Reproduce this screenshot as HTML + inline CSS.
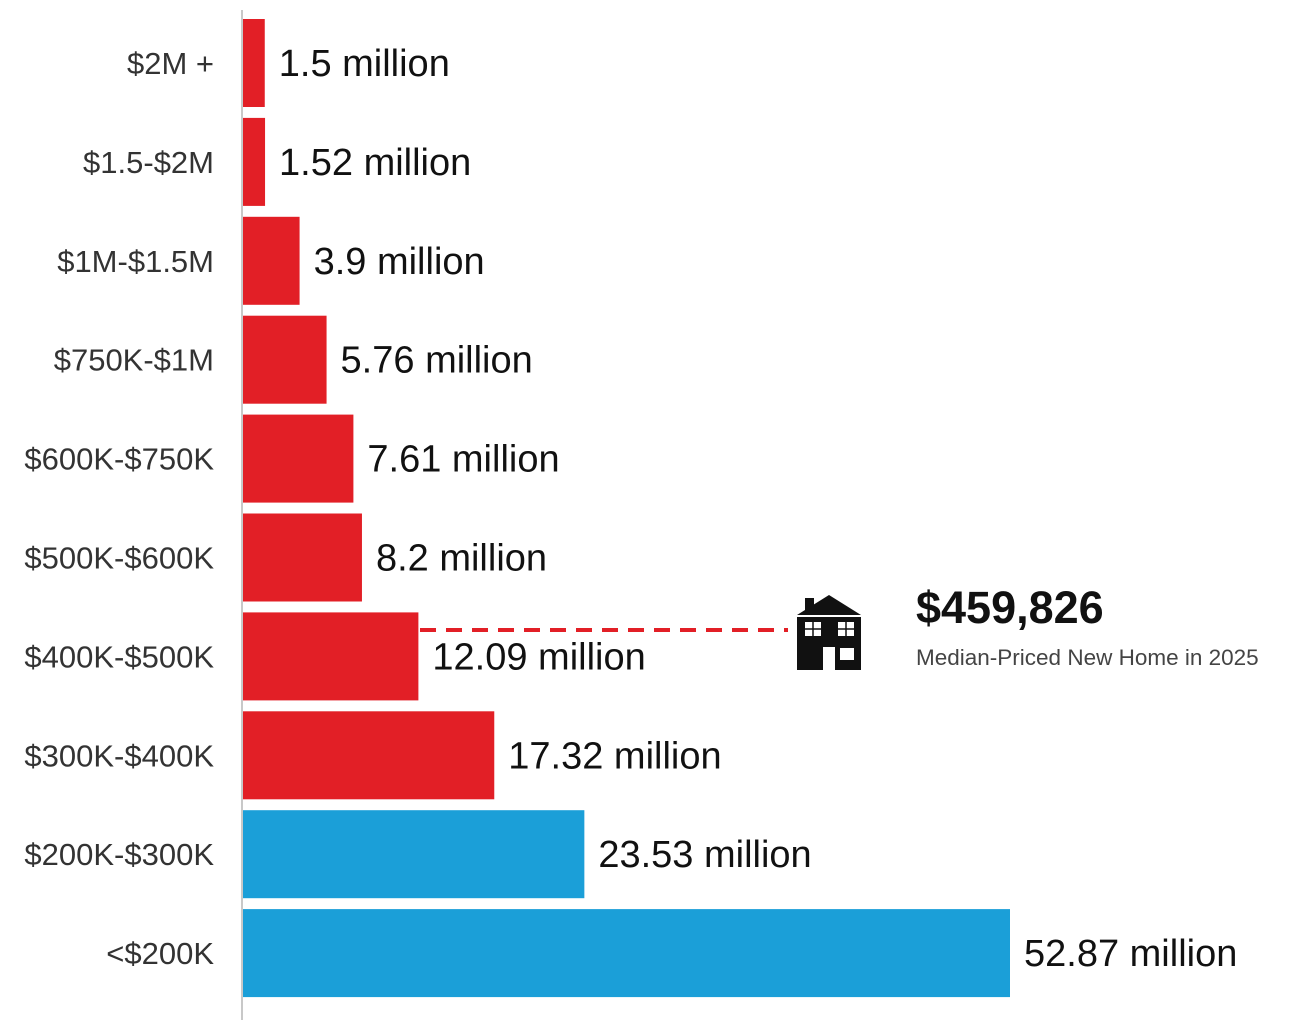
<!DOCTYPE html>
<html><head><meta charset="utf-8"><style>
body{margin:0;background:#fff;}
svg text{font-family:"Liberation Sans",sans-serif;}
</style></head><body>
<svg id="chart" width="1291" height="1029" viewBox="0 0 1291 1029" xmlns="http://www.w3.org/2000/svg">
<line x1="242" y1="10" x2="242" y2="1020" stroke="#c8c8c8" stroke-width="2"/>
<g id="bars"></g>
<g>
<line x1="420" y1="630" x2="788" y2="630" stroke="#e21f26" stroke-width="4" stroke-dasharray="16,10"/>
<g>
<polygon points="829,595 797,615 861,615" fill="#111"/>
<rect x="805" y="598" width="9" height="12" fill="#111"/>
<rect x="797" y="617" width="64" height="53" fill="#111"/>
<rect x="805" y="622" width="16" height="14" fill="#fff"/>
<rect x="838" y="622" width="16" height="14" fill="#fff"/>
<rect x="840" y="648" width="14" height="12" fill="#fff"/>
<rect x="823" y="647" width="12" height="23" fill="#fff"/>
<line x1="805" y1="629" x2="821" y2="629" stroke="#111" stroke-width="1.5"/>
<line x1="813" y1="622" x2="813" y2="636" stroke="#111" stroke-width="1.5"/>
<line x1="838" y1="629" x2="854" y2="629" stroke="#111" stroke-width="1.5"/>
<line x1="846" y1="622" x2="846" y2="636" stroke="#111" stroke-width="1.5"/>
</g>
<text x="916" y="623" font-size="45" font-weight="bold" fill="#111">$459,826</text>
<text x="916" y="665" font-size="22.5" fill="#444">Median-Priced New Home in 2025</text>
</g>
</svg>
<script>
const categories=["$2M +","$1.5-$2M","$1M-$1.5M","$750K-$1M","$600K-$750K","$500K-$600K","$400K-$500K","$300K-$400K","$200K-$300K","<$200K"];
const values=[1.5,1.52,3.9,5.76,7.61,8.2,12.09,17.32,23.53,52.87];
const valueLabels=["1.5 million","1.52 million","3.9 million","5.76 million","7.61 million","8.2 million","12.09 million","17.32 million","23.53 million","52.87 million"];
const affordable=[false,false,false,false,false,false,false,false,true,true];
const ns="http://www.w3.org/2000/svg";
const x0=243, pxPerUnit=767/52.87;
const xs=v=>x0+v*pxPerUnit;
const rowTop=i=>19+i*98.9;
const g=document.getElementById('bars');
categories.forEach((c,i)=>{
  const y=rowTop(i), h=88;
  const r=document.createElementNS(ns,'rect');
  
  
  r.setAttribute('x',x0);r.setAttribute('y',y);
  r.setAttribute('width',xs(values[i])-x0);r.setAttribute('height',h);
  r.setAttribute('fill',affordable[i]?'#1b9fd8':'#e21f26');
  g.appendChild(r);
  const t=document.createElementNS(ns,'text');
  
  
  t.setAttribute('x',214);t.setAttribute('y',y+h/2+11);
  t.setAttribute('text-anchor','end');t.setAttribute('font-size','31');t.setAttribute('fill','#333');
  t.textContent=c;g.appendChild(t);
  const v=document.createElementNS(ns,'text');
  
  
  v.setAttribute('x',xs(values[i])+14);v.setAttribute('y',y+h/2+13);
  v.setAttribute('font-size','38');v.setAttribute('fill','#111');
  v.textContent=valueLabels[i];g.appendChild(v);
});
</script>
</body></html>
